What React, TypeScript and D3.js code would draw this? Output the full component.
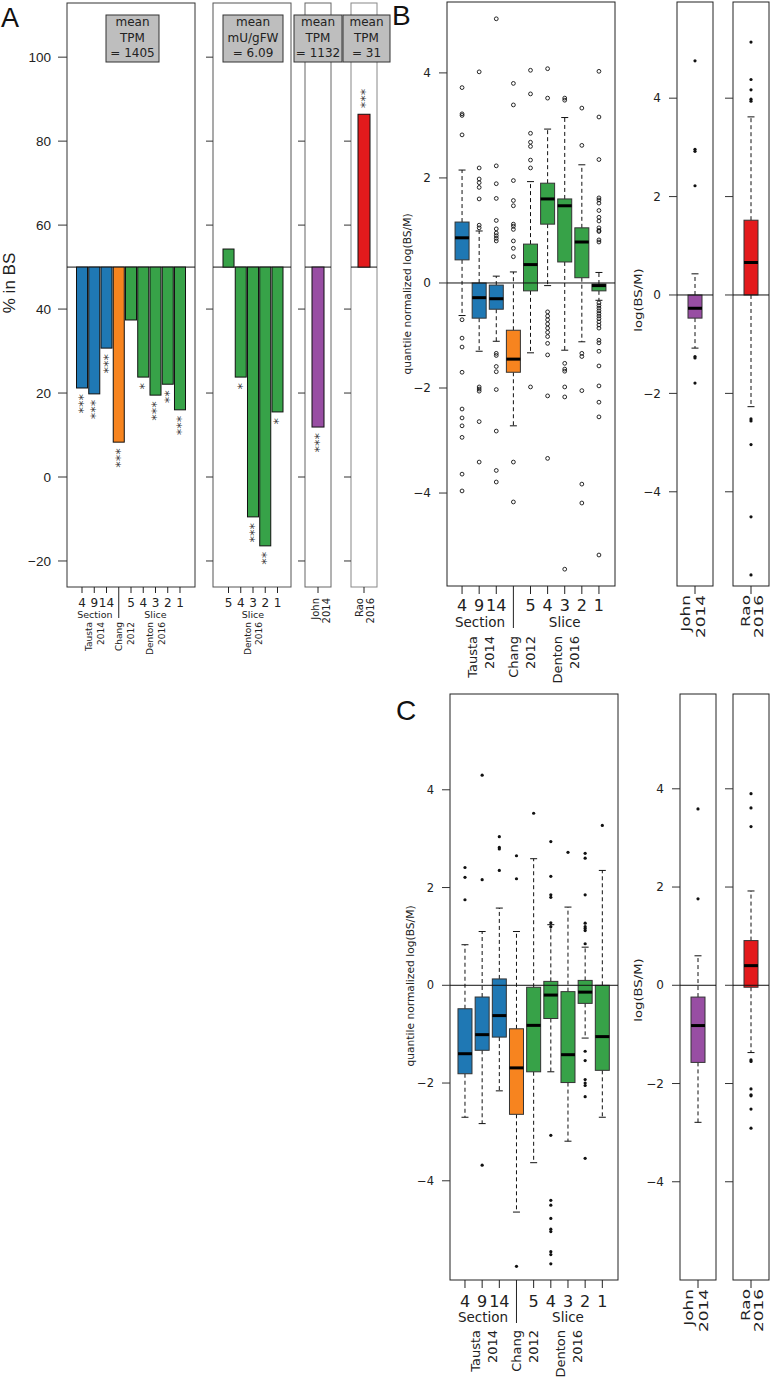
import React from "react";
import * as d3 from "d3";

const SANS = "'DejaVu Sans', sans-serif";
const ARIAL = "'Liberation Sans', Arial, sans-serif";

const BLUE = "#1f78b4";
const ORANGE = "#f7841f";
const GREEN = "#37a248";
const PURPLE = "#984ea3";
const RED = "#e31a1c";

// ---- panel A: % of expression in BS ----
const aYTicks = [-20, 0, 20, 40, 60, 80, 100];
const aTickLabels1 = ["4", "9", "14", "", "5", "4", "3", "2", "1"];
const aValues1 = [21.2, 19.8, 30.7, 8.3, 37.4, 23.8, 19.5, 22.1, 16.0];
const aStars1 = ["***", "***", "***", "***", "", "*", "***", "**", "***"];
const aColors1 = [BLUE, BLUE, BLUE, ORANGE, GREEN, GREEN, GREEN, GREEN, GREEN];
const aTickLabels2 = ["5", "4", "3", "2", "1"];
const aValues2 = [54.3, 23.8, -9.5, -16.4, 15.5];
const aStars2 = ["", "*", "***", "**", "*"];
const aColors2 = [GREEN, GREEN, GREEN, GREEN, GREEN];
const aValuesJohn = [11.9];
const aStarsJohn = ["***"];
const aValuesRao = [86.4];
const aStarsRao = ["***"];
const aMeans = [
  ["mean", "TPM", "= 1405"],
  ["mean", "mU/gFW", "= 6.09"],
  ["mean", "TPM", "= 1132"],
  ["mean", "TPM", "= 31"],
];

// ---- panels B and C: log(BS/M) boxplots ----
const groupTicks = ["4", "9", "14", "", "5", "4", "3", "2", "1"];
const groupColors = [BLUE, BLUE, BLUE, ORANGE, GREEN, GREEN, GREEN, GREEN, GREEN];
const studies = [["Tausta", "2014"], ["Chang", "2012"], ["Denton", "2016"]];
const logTicks = [-4, -2, 0, 2, 4];

const bMed = [0.86, -0.28, -0.3, -1.45, 0.35, 1.6, 1.47, 0.78, -0.05];
const bQ1 = [0.44, -0.67, -0.5, -1.7, -0.15, 1.12, 0.4, 0.1, -0.15];
const bQ3 = [1.16, 0.0, -0.04, -0.9, 0.74, 1.9, 1.6, 1.05, -0.02];
const bLo = [-0.62, -1.3, -1.11, -2.72, -1.33, -0.05, -1.28, -1.12, -0.33];
const bHi = [2.15, 0.99, 0.13, 0.21, 1.93, 2.93, 3.15, 2.25, 0.2];
const bOut = [
  [3.72, 3.22, 3.19, 2.82, -0.7, -1.05, -1.22, -1.7, -2.4, -2.57, -2.72, -2.94, -3.64, -3.96],
  [4.02, 2.19, 1.98, 1.91, 1.82, 1.6, 1.1, 1.05, -1.98, -2.02, -2.06, -2.64, -3.41],
  [5.03, 2.23, 1.89, 1.61, 1.19, 1.03, 0.95, 0.9, 0.85, 0.8, -1.34, -1.38, -1.59, -1.69, -2.03, -2.82, -3.57, -3.79],
  [3.8, 3.39, 1.95, 1.57, 1.47, 1.12, 1.08, 1.02, 0.8, 0.66, 0.5, -3.41, -4.17],
  [4.05, 3.6, 2.85, 2.68, 2.6, 2.34, 2.19, -1.98],
  [4.08, 3.52, -0.55, -0.63, -0.7, -0.78, -0.86, -0.94, -1.02, -1.15, -1.37, -2.15, -3.34],
  [3.52, 3.48, -1.53, -1.64, -1.68, -1.98, -2.17, -5.45],
  [3.33, 2.62, -1.34, -1.4, -2.05, -3.83, -4.19],
  [4.03, 3.16, 2.35, 1.62, 1.58, 1.52, 1.38, 1.25, 1.18, 1.05, 1.0, 0.98, 0.82, 0.78,
   -0.38, -0.43, -0.48, -0.53, -0.58, -0.63, -0.68, -0.74, -0.8, -0.86, -1.09, -1.14, -1.3, -1.58, -1.96, -2.27, -2.55, -5.18],
];
const bJohn = { med: -0.27, q1: -0.47, q3: 0.0, lo: -1.08, hi: 0.43, out: [4.76, 2.96, 2.92, 2.22, -1.25, -1.28, -1.79] };
const bRao = { med: 0.66, q1: 0.0, q3: 1.52, lo: -2.27, hi: 3.62, out: [5.14, 4.38, 4.17, 3.98, 3.94, -2.52, -2.56, -3.04, -4.51, -5.69] };

const cMed = [-1.4, -1.01, -0.62, -1.69, -0.82, -0.2, -1.42, -0.14, -1.05];
const cQ1 = [-1.81, -1.33, -1.06, -2.64, -1.77, -0.68, -1.99, -0.37, -1.74];
const cQ3 = [-0.48, -0.24, 0.13, -0.89, -0.04, 0.08, -0.13, 0.1, 0.0];
const cLo = [-2.7, -2.83, -2.16, -4.64, -3.63, -1.77, -3.19, -1.08, -2.7];
const cHi = [0.83, 1.1, 1.58, 1.1, 2.59, 1.24, 1.6, 0.78, 2.35];
const cOut = [
  [2.41, 2.21, 1.75],
  [4.3, 2.16, -3.68],
  [3.04, 2.82, 2.79, 2.35],
  [2.65, 2.18, -5.75],
  [3.52],
  [2.94, 2.23, 1.85, 1.8, 1.28, 1.2, -3.07, -4.4, -4.5, -4.77, -4.99, -5.04, -5.45, -5.51, -5.7],
  [2.72],
  [2.7, 2.6, 1.85, 1.27, 1.2, 1.16, 1.12, 0.85, -1.35, -1.54, -1.93, -2.0, -2.05, -2.28, -3.54],
  [3.27],
];
const cJohn = { med: -0.82, q1: -1.57, q3: -0.24, lo: -2.79, hi: 0.6, out: [3.59, 1.76] };
const cRao = { med: 0.4, q1: -0.04, q3: 0.91, lo: -1.37, hi: 1.92, out: [3.9, 3.61, 3.23, -1.52, -1.55, -2.11, -2.23, -2.25, -2.52, -2.91] };

type Box = { med: number; q1: number; q3: number; lo: number; hi: number; out: number[] };

const toRows = (med, q1, q3, lo, hi, out): Box[] =>
  med.map((m, i) => ({ med: m, q1: q1[i], q3: q3[i], lo: lo[i], hi: hi[i], out: out[i] }));

const center = (b: d3.ScaleBand<number>, i: number) => (b(0) as number) + b.bandwidth() / 2 + i * b.step();

function Rot({ x, y, text, size, anchor = "end", stretch = 1, family = SANS }) {
  return (
    <text
      transform={`translate(${x},${y}) rotate(-90) scale(${stretch},1)`}
      textAnchor={anchor}
      dominantBaseline="central"
      fontSize={size}
      fontFamily={family}
      fill="#222"
    >
      {text}
    </text>
  );
}

function BarPlot({ x0, x1, band, values, colors, stars, ticks, y, frame, tickLen, mean, meanW, meanCx, axisLabels }) {
  const y50 = y(50);
  const [yb, yt] = y.range();
  return (
    <g>
      <rect x={x0} y={yt} width={x1 - x0} height={yb - yt} fill="white" stroke={frame} />
      {aYTicks.map((t) => (
        <g key={t}>
          <line x1={x0 - tickLen} x2={x0} y1={y(t)} y2={y(t)} stroke="#333" />
          {axisLabels && (
            <text x={x0 - 16} y={y(t)} dy="0.35em" textAnchor="end" fontSize={13.5} fontFamily={ARIAL} fill="#222">
              {t < 0 ? "\u2212" + Math.abs(t) : t}
            </text>
          )}
        </g>
      ))}
      <line x1={x0} x2={x1} y1={y50} y2={y50} stroke="#111" />
      {values.map((v, i) => {
        const cx = center(band, i);
        const top = Math.min(y(v), y50);
        const below = v < 50;
        return (
          <g key={i}>
            <rect x={band(i)} y={top} width={band.bandwidth()} height={Math.abs(y(v) - y50)} fill={colors[i]} stroke="#111" />
            {stars[i] && (
              <text
                transform={`translate(${cx - 7},${below ? y(v) + 6 : y(v) - 6}) rotate(90)`}
                textAnchor={below ? "start" : "end"}
                fontSize={13}
                fontFamily={SANS}
                fill="#333"
              >
                {stars[i]}
              </text>
            )}
          </g>
        );
      })}
      {ticks.map((t, i) =>
        t ? (
          <g key={"t" + i}>
            <line x1={center(band, i)} x2={center(band, i)} y1={yb} y2={yb + 6} stroke="#222" />
            <text x={center(band, i)} y={yb + 16} dy="0.35em" textAnchor="middle" fontSize={12} fontFamily={SANS} fill="#222">
              {t}
            </text>
          </g>
        ) : null
      )}
      <rect x={meanCx - meanW / 2} y={15} width={meanW} height={47} fill="#bebebe" stroke="#333" />
      {mean.map((s, k) => (
        <text key={k} x={meanCx} y={22 + k * 15.5} dy="0.35em" textAnchor="middle" fontSize={12} fontFamily={SANS} fill="#222">
          {s}
        </text>
      ))}
    </g>
  );
}

function BoxPanel({ x0, x1, y0, y1, ylim, centers, boxW, rows, colors, open, labels, tickFont, frame = "#222" }) {
  const y = d3.scaleLinear().domain(ylim).range([y1, y0]);
  return (
    <g>
      <rect x={x0} y={y0} width={x1 - x0} height={y1 - y0} fill="white" stroke={frame} />
      {logTicks.map((t) => (
        <g key={t}>
          <line x1={x0 - 8} x2={x0} y1={y(t)} y2={y(t)} stroke="#333" />
          {labels && (
            <text x={x0 - 16} y={y(t)} dy="0.35em" textAnchor="end" fontSize={tickFont} fontFamily={SANS} fill="#222">
              {t < 0 ? "\u2212" + Math.abs(t) : t}
            </text>
          )}
        </g>
      ))}
      {rows.map((r: Box, i: number) => {
        const cx = centers[i];
        return (
          <g key={i}>
            <line x1={cx} x2={cx} y1={y(r.q3)} y2={y(r.hi)} stroke="#111" strokeDasharray="4,3" />
            <line x1={cx} x2={cx} y1={y(r.q1)} y2={y(r.lo)} stroke="#111" strokeDasharray="4,3" />
            <line x1={cx - 3.5} x2={cx + 3.5} y1={y(r.hi)} y2={y(r.hi)} stroke="#111" />
            <line x1={cx - 3.5} x2={cx + 3.5} y1={y(r.lo)} y2={y(r.lo)} stroke="#111" />
            <rect x={cx - boxW / 2} y={y(r.q3)} width={boxW} height={y(r.q1) - y(r.q3)} fill={colors[i]} stroke="#333" />
            <line x1={cx - boxW / 2} x2={cx + boxW / 2} y1={y(r.med)} y2={y(r.med)} stroke="#000" strokeWidth={3} />
            {r.out.map((o, k) =>
              open ? (
                <circle key={k} cx={cx} cy={y(o)} r={1.9} fill="none" stroke="#111" strokeWidth={0.9} />
              ) : (
                <circle key={k} cx={cx} cy={y(o)} r={1.6} fill="#111" />
              )
            )}
          </g>
        );
      })}
      <line x1={x0} x2={x1} y1={y(0)} y2={y(0)} stroke="#111" />
    </g>
  );
}

function GroupAxis({ band, y1, tickLen, labDy, labSize, secDy, secSize, sepLen, rotDy, rotSize, rotGap }) {
  const c = (i: number) => center(band, i);
  return (
    <g>
      {groupTicks.map((t, i) =>
        t ? (
          <g key={i}>
            <line x1={c(i)} x2={c(i)} y1={y1} y2={y1 + tickLen} stroke="#222" />
            <text x={c(i)} y={y1 + labDy} dy="0.35em" textAnchor="middle" fontSize={labSize} fontFamily={SANS} fill="#222">
              {t}
            </text>
          </g>
        ) : null
      )}
      <line x1={c(3)} x2={c(3)} y1={y1} y2={y1 + sepLen} stroke="#222" />
      <text x={c(1.05)} y={y1 + secDy} dy="0.35em" textAnchor="middle" fontSize={secSize} fontFamily={SANS} fill="#222">
        Section
      </text>
      <text x={c(6)} y={y1 + secDy} dy="0.35em" textAnchor="middle" fontSize={secSize} fontFamily={SANS} fill="#222">
        Slice
      </text>
      {studies.map((s, k) => {
        const mid = c([1.1, 3.5, 6.05][k]);
        return (
          <g key={k}>
            <Rot x={mid - rotGap / 2} y={y1 + rotDy} text={s[0]} size={rotSize} />
            <Rot x={mid + rotGap / 2} y={y1 + rotDy} text={s[1]} size={rotSize} />
          </g>
        );
      })}
    </g>
  );
}

function SingleAxis({ cx, y1, lines, size, stretch, dl, dr, tickLen, dy }) {
  return (
    <g>
      <line x1={cx} x2={cx} y1={y1} y2={y1 + tickLen} stroke="#222" />
      <Rot x={cx + dl} y={y1 + dy} text={lines[0]} size={size} stretch={stretch} />
      <Rot x={cx + dr} y={y1 + dy} text={lines[1]} size={size} stretch={stretch} />
    </g>
  );
}

export default function App() {
  // panel A scales
  const yA = d3.scaleLinear().domain([-26.2, 112.9]).range([587, 3]);
  const bandA1 = d3.scaleBand<number>().domain(d3.range(aValues1.length)).range([76.5, 185.5]).paddingInner(0.1);
  const bandA2 = d3.scaleBand<number>().domain(d3.range(aValues2.length)).range([223, 283]).paddingInner(0.1);
  const bandA3 = d3.scaleBand<number>().domain([0]).range([312, 324]);
  const bandA4 = d3.scaleBand<number>().domain([0]).range([358, 370]);

  // panels B and C scales
  const bandB = d3.scaleBand<number>().domain(d3.range(9)).range([453.5, 607.5]);
  const bandC = d3.scaleBand<number>().domain(d3.range(9)).range([456.4, 610.9]);
  const cB = d3.range(9).map((i) => center(bandB, i));
  const cC = d3.range(9).map((i) => center(bandC, i));
  const bRows = toRows(bMed, bQ1, bQ3, bLo, bHi, bOut);
  const cRows = toRows(cMed, cQ1, cQ3, cLo, cHi, cOut);

  return (
    <svg width={771} height={1379} style={{ position: "absolute", left: 0, top: 0, background: "white" }} fontFamily={SANS}>
      <rect width={771} height={1379} fill="white" />

      {/* ---------------- A ---------------- */}
      <text x={1} y={27} fontSize={27} fontFamily={ARIAL} fill="#111">A</text>
      <Rot x={9} y={283} text="% in BS" size={17} anchor="middle" family={ARIAL} />
      <BarPlot x0={67} x1={195} band={bandA1} values={aValues1} colors={aColors1} stars={aStars1} ticks={aTickLabels1}
        y={yA} frame="#333" tickLen={9} mean={aMeans[0]} meanW={53} meanCx={132.5} axisLabels />
      <BarPlot x0={213} x1={291} band={bandA2} values={aValues2} colors={aColors2} stars={aStars2} ticks={aTickLabels2}
        y={yA} frame="#555" tickLen={7} mean={aMeans[1]} meanW={60} meanCx={253} axisLabels={false} />
      <BarPlot x0={305} x1={331} band={bandA3} values={aValuesJohn} colors={[PURPLE]} stars={aStarsJohn} ticks={[""]}
        y={yA} frame="#666" tickLen={7} mean={aMeans[2]} meanW={48} meanCx={318} axisLabels={false} />
      <BarPlot x0={351} x1={377} band={bandA4} values={aValuesRao} colors={[RED]} stars={aStarsRao} ticks={[""]}
        y={yA} frame="#888" tickLen={7} mean={aMeans[3]} meanW={47} meanCx={366.5} axisLabels={false} />

      {/* A: group labels under the bars */}
      <line x1={center(bandA1, 3)} x2={center(bandA1, 3)} y1={587} y2={618} stroke="#222" />
      <text x={center(bandA1, 1.05)} y={615} dy="0.35em" textAnchor="middle" fontSize={9.5} fill="#222">Section</text>
      <text x={center(bandA1, 6)} y={615} dy="0.35em" textAnchor="middle" fontSize={9.5} fill="#222">Slice</text>
      {studies.map((s, k) => {
        const mid = center(bandA1, [1.1, 3.5, 6.05][k]);
        return (
          <g key={k}>
            <Rot x={mid - 6} y={622} text={s[0]} size={9} />
            <Rot x={mid + 6} y={622} text={s[1]} size={9} />
          </g>
        );
      })}
      <text x={center(bandA2, 2)} y={615} dy="0.35em" textAnchor="middle" fontSize={9.5} fill="#222">Slice</text>
      <Rot x={center(bandA2, 2) - 5.5} y={622} text="Denton" size={9} />
      <Rot x={center(bandA2, 2) + 5.5} y={622} text="2016" size={9} />
      <SingleAxis cx={center(bandA3, 0)} y1={587} lines={["John", "2014"]} size={10} stretch={1} dl={-3} dr={8} tickLen={6} dy={11} />
      <SingleAxis cx={center(bandA4, 0)} y1={587} lines={["Rao", "2016"]} size={10} stretch={1} dl={-5} dr={6} tickLen={6} dy={11} />

      {/* ---------------- B ---------------- */}
      <text x={392} y={25} fontSize={28} fontFamily={ARIAL} fill="#111">B</text>
      <Rot x={407} y={294} text="quantile normalized log(BS/M)" size={10.7} anchor="middle" />
      <BoxPanel x0={447} x1={615} y0={2} y1={586} ylim={[-5.77, 5.35]} centers={cB} boxW={14} rows={bRows}
        colors={groupColors} open labels tickFont={12} />
      <GroupAxis band={bandB} y1={586} tickLen={8} labDy={19} labSize={16} secDy={36} secSize={13.5} sepLen={42}
        rotDy={50} rotSize={13} rotGap={17} />
      <Rot x={638} y={300} text="log(BS/M)" size={11} anchor="middle" stretch={1.2} />
      <BoxPanel x0={677} x1={713} y0={2} y1={586} ylim={[-5.915, 5.955]} centers={[695]} boxW={14} rows={[bJohn]}
        colors={[PURPLE]} open={false} labels tickFont={12} />
      <BoxPanel x0={733} x1={769} y0={2} y1={586} ylim={[-5.915, 5.955]} centers={[751]} boxW={14} rows={[bRao]}
        colors={[RED]} open={false} labels={false} tickFont={12} />
      <SingleAxis cx={695} y1={586} lines={["John", "2014"]} size={13} stretch={1.3} dl={-9} dr={6} tickLen={8} dy={9} />
      <SingleAxis cx={751} y1={586} lines={["Rao", "2016"]} size={13} stretch={1.3} dl={-5} dr={8} tickLen={8} dy={9} />

      {/* ---------------- C ---------------- */}
      <text x={396} y={720} fontSize={28} fontFamily={ARIAL} fill="#111">C</text>
      <Rot x={410} y={986} text="quantile normalized log(BS/M)" size={10.7} anchor="middle" />
      <BoxPanel x0={450} x1={618} y0={694} y1={1280} ylim={[-6.03, 5.96]} centers={cC} boxW={14} rows={cRows}
        colors={groupColors} open={false} labels tickFont={11.5} />
      <GroupAxis band={bandC} y1={1280} tickLen={8} labDy={21} labSize={16} secDy={37} secSize={13.5} sepLen={43}
        rotDy={50} rotSize={13} rotGap={17} />
      <Rot x={638} y={990} text="log(BS/M)" size={11} anchor="middle" stretch={1.2} />
      <BoxPanel x0={680} x1={716} y0={694} y1={1280} ylim={[-6.0, 5.93]} centers={[698]} boxW={14} rows={[cJohn]}
        colors={[PURPLE]} open={false} labels tickFont={12} />
      <BoxPanel x0={733} x1={769} y0={694} y1={1280} ylim={[-6.0, 5.93]} centers={[751]} boxW={14} rows={[cRao]}
        colors={[RED]} open={false} labels={false} tickFont={12} />
      <SingleAxis cx={698} y1={1280} lines={["John", "2014"]} size={13} stretch={1.3} dl={-9} dr={6} tickLen={8} dy={9} />
      <SingleAxis cx={751} y1={1280} lines={["Rao", "2016"]} size={13} stretch={1.3} dl={-5} dr={8} tickLen={8} dy={9} />
    </svg>
  );
}
